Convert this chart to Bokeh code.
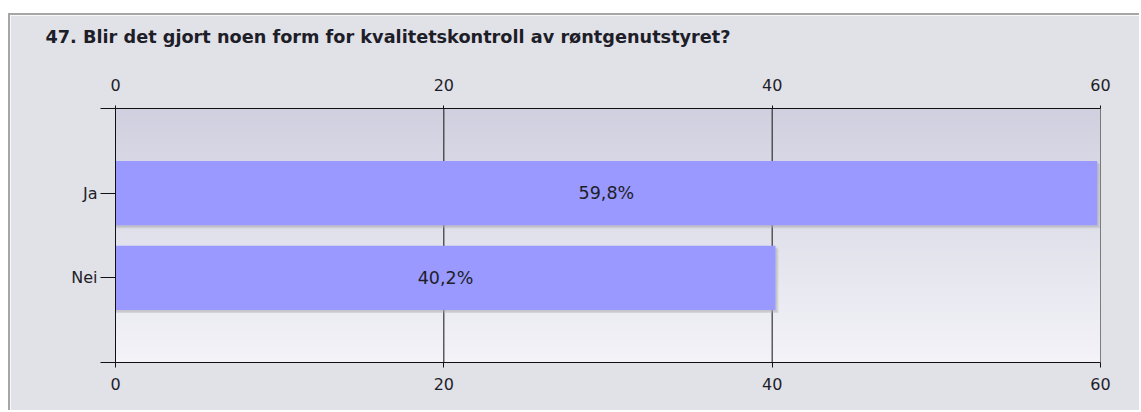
import numpy as np
from bokeh.plotting import figure
from bokeh.models import LinearAxis, FixedTicker, Range1d, ColumnDataSource, Spacer, Title
from bokeh.layouts import column, row
from bokeh.embed import file_html
from bokeh.resources import INLINE

# ---- data ----
title_text = "47. Blir det gjort noen form for kvalitetskontroll av røntgenutstyret?"
categories = ["Ja", "Nei"]
values = [59.8, 40.2]
value_labels = ["59,8%", "40,2%"]
x_ticks = [0, 20, 40, 60]

n = len(categories)
ypos = [n - i for i in range(n)]  # Ja top, Nei below

FONT = "DejaVu Sans"
BG = "#e1e1e8"
TXT = "#1e1e28"

p = figure(width=1131, height=397, output_backend="svg", toolbar_location=None,
           x_range=Range1d(0, 60), y_range=Range1d(0, n + 1),
           x_axis_location=None, y_axis_location=None,
           min_border_left=105, min_border_right=41, min_border_top=93, min_border_bottom=50)
p.background_fill_color = BG
p.border_fill_color = BG
p.outline_line_color = None
p.ygrid.visible = False
p.xgrid.visible = False

# background gradient of the plot area
grad_n = 64
t = np.linspace(0, 1, grad_n)
top_c = np.array([208, 208, 224])
bot_c = np.array([243, 243, 248])
cols = (top_c[None, :] * (1 - t[:, None]) + bot_c[None, :] * t[:, None]).astype(np.uint32)
img = np.empty((grad_n, 1), dtype=np.uint32)
view = img.view(dtype=np.uint8).reshape((grad_n, 1, 4))
view[:, 0, 0] = cols[::-1, 0]
view[:, 0, 1] = cols[::-1, 1]
view[:, 0, 2] = cols[::-1, 2]
view[:, 0, 3] = 255
p.image_rgba(image=[img], x=0, y=0, dw=60, dh=n + 1)

for xv in x_ticks[1:]:
    p.segment(x0=[xv], y0=[0], x1=[xv], y1=[n + 1], line_color="#111111", line_width=1)

src = ColumnDataSource(dict(y=ypos, v=values, lab=value_labels,
                            ys1=[y - 0.035 for y in ypos], ys2=[y - 0.02 for y in ypos],
                            vs1=[v + 0.18 for v in values], vs2=[v + 0.09 for v in values],
                            xc=[v / 2 for v in values]))
p.hbar(y="ys1", right="vs1", left=0, height=0.76, source=src, fill_color="#a8a8b0", fill_alpha=0.35, line_color=None)
p.hbar(y="ys2", right="vs2", left=0, height=0.76, source=src, fill_color="#a8a8b0", fill_alpha=0.35, line_color=None)
p.hbar(y="y", right="v", left=0, height=0.76, source=src, fill_color="#9999ff", line_color=None)
p.text(x="xc", y="y", text="lab", source=src, text_align="center", text_baseline="middle",
       text_font_size="17.5px", text_color=TXT, text_font={"value": FONT})

ticker = FixedTicker(ticks=x_ticks)
def style_axis(ax):
    ax.axis_line_color = "#111111"
    ax.major_tick_line_color = "#111111"
    ax.minor_tick_line_color = None
    ax.major_label_text_font = FONT
    ax.major_label_text_font_size = "16px"
    ax.major_label_text_color = TXT

top_ax = LinearAxis(ticker=ticker)
style_axis(top_ax)
top_ax.major_tick_out = 3
top_ax.major_tick_in = 0
top_ax.major_label_standoff = 15
p.add_layout(top_ax, "above")

bot_ax = LinearAxis(ticker=FixedTicker(ticks=x_ticks))
style_axis(bot_ax)
bot_ax.major_tick_out = 5
bot_ax.major_tick_in = 0
bot_ax.major_label_standoff = 10
p.add_layout(bot_ax, "below")

left_ax = LinearAxis(ticker=FixedTicker(ticks=list(range(n + 2))))
style_axis(left_ax)
left_ax.major_tick_out = 15
left_ax.major_tick_in = 0
left_ax.major_label_standoff = 3
left_ax.major_label_overrides = {0: "", n + 1: ""} | {ypos[i]: categories[i] for i in range(n)}
p.add_layout(left_ax, "left")

# small gap between axis labels and title
gap = Title(text=" ", text_font_size="1px", standoff=21)
p.add_layout(gap, "above")

ttl = Title(text=title_text, align="left", offset=-70, text_font=FONT, text_font_size="17.7px",
            text_font_style="bold", text_color=TXT, standoff=9)
p.add_layout(ttl, "above")

p.styles = {"border-left": "2px solid #a6a6a6", "border-top": "2px solid #a6a6a6"}

layout = row(Spacer(width=8, height=412), column(Spacer(height=13, width=1133), p, spacing=0), spacing=0)
open("out.html", "w").write(file_html(layout, INLINE))
